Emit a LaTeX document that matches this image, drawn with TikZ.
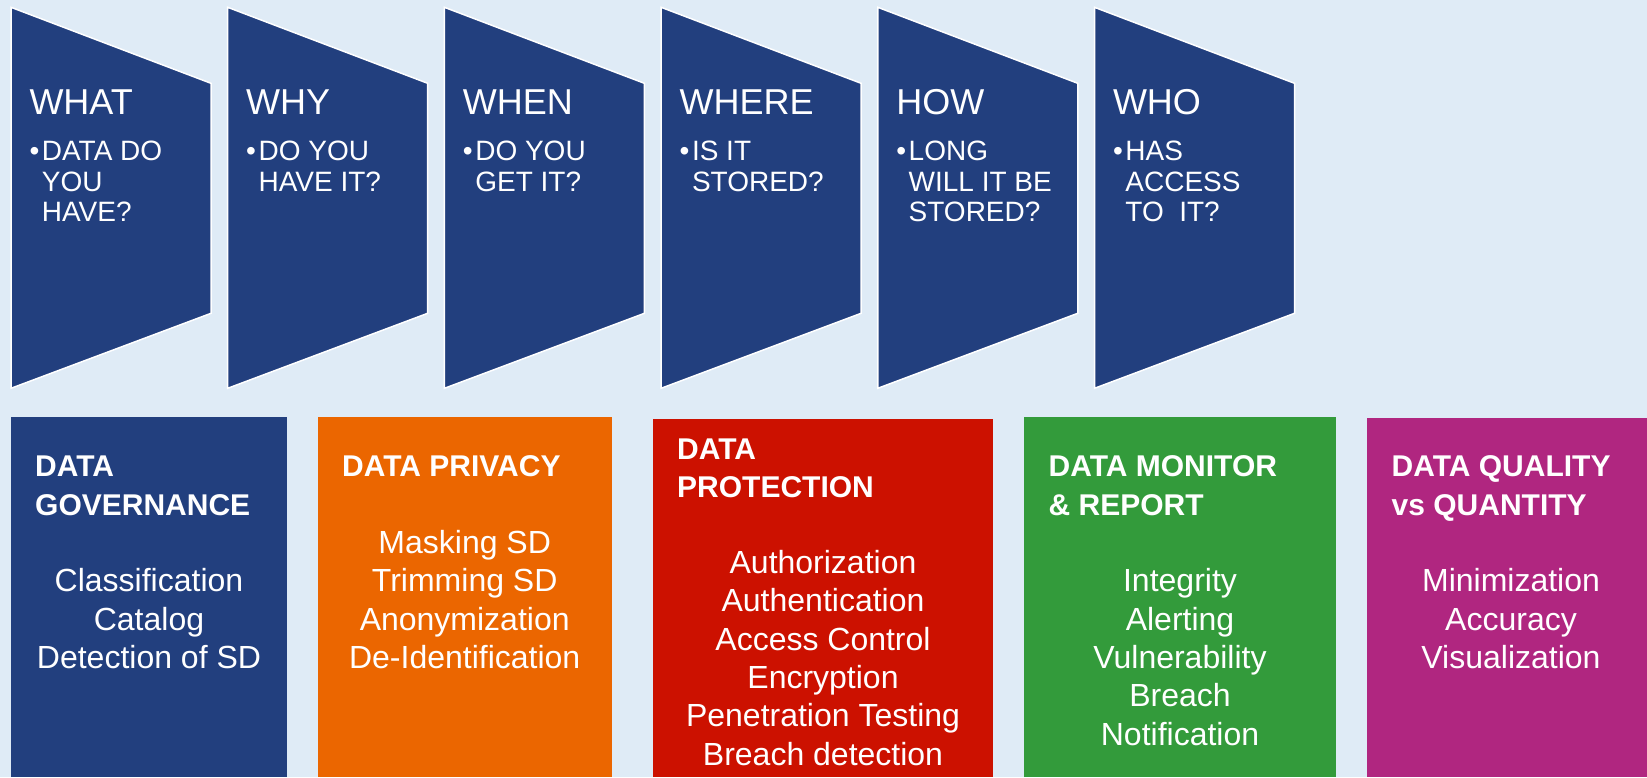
\documentclass[tikz,border=0pt]{standalone}
\usepackage{fontspec}
\setmainfont{Liberation Sans}

\definecolor{pagebg}{RGB}{223,235,246}
\definecolor{navy}{RGB}{34,63,126}
\definecolor{govblue}{RGB}{34,63,126}
\definecolor{privorange}{RGB}{235,102,0}
\definecolor{protred}{RGB}{204,17,0}
\definecolor{mongreen}{RGB}{51,155,59}
\definecolor{qualmagenta}{RGB}{176,38,128}

\begin{document}
\begin{tikzpicture}[x=1pt, y=-1pt,
    flag/.style={fill=navy, draw=white, line width=1.5pt, line join=miter},
    qword/.style={text=white, inner sep=0pt, anchor=base west, font=\fontsize{36}{40}\selectfont},
    qdot/.style={text=white, inner sep=0pt, anchor=base west, font=\fontsize{28}{30.5}\selectfont},
    qtext/.style={text=white, inner sep=0pt, anchor=base west, align=left, font=\fontsize{28}{30.5}\selectfont},
    boxhead/.style={text=white, inner sep=0pt, anchor=base west, align=left, font=\bfseries\fontsize{30}{38.3}\selectfont},
    boxbody/.style={text=white, inner sep=0pt, anchor=base, align=center, font=\fontsize{32}{38.3}\selectfont}]
    % 背景
    \fill[pagebg] (0,0) rectangle (1647,777);

    % 上排六个问题（多行文字按最后一行基线定位）
    \draw[flag] (11,7.3) -- (211,83.3) -- (211,313.3) -- (11,388.3) -- cycle;
    \draw[flag] (227.7,7.3) -- (427.7,83.3) -- (427.7,313.3) -- (227.7,388.3) -- cycle;
    \draw[flag] (444.4,7.3) -- (644.4,83.3) -- (644.4,313.3) -- (444.4,388.3) -- cycle;
    \draw[flag] (661.1,7.3) -- (861.1,83.3) -- (861.1,313.3) -- (661.1,388.3) -- cycle;
    \draw[flag] (877.8,7.3) -- (1077.8,83.3) -- (1077.8,313.3) -- (877.8,388.3) -- cycle;
    \draw[flag] (1094.5,7.3) -- (1294.5,83.3) -- (1294.5,313.3) -- (1094.5,388.3) -- cycle;

    \node[qword] (what) at (29.3,114) {WHAT};
    \node[qdot] (whatdot) at (29.3,160.7) {•};
    \node[qtext] (whatq) at (41.7,221.7) {DATA DO\\YOU\\HAVE?};

    \node[qword] (why) at (246,114) {WHY};
    \node[qdot] (whydot) at (246,160.7) {•};
    \node[qtext] (whyq) at (258.4,191.2) {DO YOU\\HAVE IT?};

    \node[qword] (when) at (462.7,114) {WHEN};
    \node[qdot] (whendot) at (462.7,160.7) {•};
    \node[qtext] (whenq) at (475.1,191.2) {DO YOU\\GET IT?};

    \node[qword] (where) at (679.4,114) {WHERE};
    \node[qdot] (wheredot) at (679.4,160.7) {•};
    \node[qtext] (whereq) at (691.8,191.2) {IS IT\\STORED?};

    \node[qword] (how) at (896.1,114) {HOW};
    \node[qdot] (howdot) at (896.1,160.7) {•};
    \node[qtext] (howq) at (908.5,221.7) {LONG\\WILL IT BE\\STORED?};

    \node[qword] (who) at (1112.8,114) {WHO};
    \node[qdot] (whodot) at (1112.8,160.7) {•};
    \node[qtext] (whoq) at (1125.2,221.7) {HAS\\ACCESS\\TO\ \ IT?};

    % 下排五个领域
    \fill[govblue] (11,416.7) rectangle (287,777);
    \fill[privorange] (318,416.7) rectangle (611.5,777);
    \fill[protred] (653,419) rectangle (993,777);
    \fill[mongreen] (1024,416.7) rectangle (1335.6,777);
    \fill[qualmagenta] (1367,417.7) rectangle (1647,777);

    \node[boxhead] (govhead) at (35,515) {DATA\\GOVERNANCE};
    \node[boxbody] (govbody) at (149,668.3) {Classification\\Catalog\\Detection of SD};

    \node[boxhead] (privhead) at (342,476.7) {DATA PRIVACY};
    \node[boxbody] (privbody) at (464.7,668.3) {Masking SD\\Trimming SD\\Anonymization\\De-Identification};

    \node[boxhead] (prothead) at (677,497.6) {DATA\\PROTECTION};
    \node[boxbody] (protbody) at (823,765) {Authorization\\Authentication\\Access Control\\Encryption\\Penetration Testing\\Breach detection};

    \node[boxhead] (monhead) at (1048.5,515) {DATA MONITOR\\\& REPORT};
    \node[boxbody] (monbody) at (1180,745) {Integrity\\Alerting\\Vulnerability\\Breach\\Notification};

    \node[boxhead] (qualhead) at (1391.5,515) {DATA QUALITY\\vs QUANTITY};
    \node[boxbody] (qualbody) at (1511,668.3) {Minimization\\Accuracy\\Visualization};
\end{tikzpicture}
\end{document}
